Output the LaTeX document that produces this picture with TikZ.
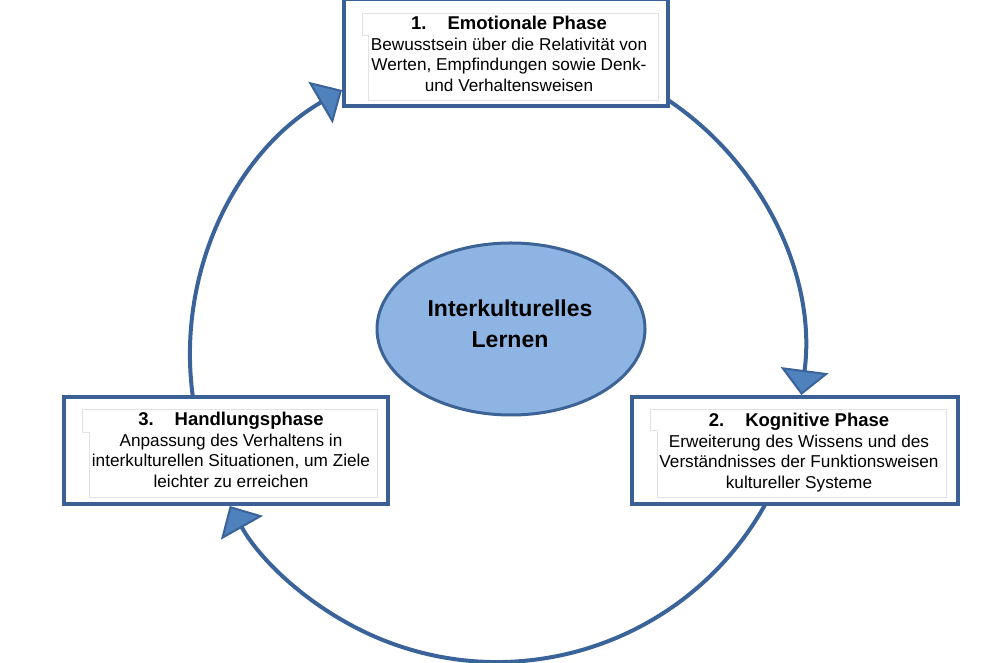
\documentclass[tikz,border=0pt]{standalone}
\usepackage{fontspec}
\setmainfont{Liberation Sans}
\usetikzlibrary{arrows.meta,shapes.geometric}
\definecolor{boxline}{HTML}{3B6096}
\definecolor{ringline}{HTML}{3A6399}
\definecolor{tipfill}{HTML}{4F81BD}
\definecolor{ellfill}{HTML}{8EB4E3}
\definecolor{ellline}{HTML}{3C6396}
\definecolor{faint}{HTML}{E2E2E2}
\tikzset{
  phasebox/.style={draw=boxline, line width=4pt, fill=white, rectangle, inner sep=0pt},
  ring/.style={draw=ringline, line width=4pt},
  ringtip/.style={-{Triangle[length=25pt,width=48pt,fill=tipfill,line width=2pt]}},
  innerframe/.style={draw=faint, line width=0.8pt},
  phasetext/.style={anchor=base, inner sep=0pt, font=\fontsize{17.2}{20.4}\selectfont},
}
\newcommand{\phtitle}[2]{{\fontsize{18.5}{20.4}\selectfont\bfseries #1\hspace{21pt}#2}}
\begin{document}
\begin{tikzpicture}[x=1pt,y=1pt]
\useasboundingbox (0,0) rectangle (992,663);
\fill[white] (0,0) rectangle (992,663);
% ring arcs with arrowheads
\coordinate (ctr) at (497,308);
\draw[ring, ringtip] (ctr) ++(190:307) coordinate (a1s) arc[start angle=190, end angle=120.32, radius=307] coordinate (a1e);
\draw[ring, ringtip] (ctr) ++(58:307) coordinate (a2s) arc[start angle=58, end angle=-7.48, radius=307] coordinate (a2e);
\draw[ring, ringtip] (ctr) ++(-25:307) coordinate (a3s) arc[start angle=-25, end angle=-150.54, radius=307] coordinate (a3e);
% boxes
\node[phasebox, minimum width=324pt, minimum height=107pt] (b1) at (506,610.5) {};
\node[phasebox, minimum width=326pt, minimum height=107pt] (b2) at (795,212.5) {};
\node[phasebox, minimum width=324pt, minimum height=107pt] (b3) at (226,212.5) {};
% faint inner text frames
\draw[innerframe] (362,650) -- (658,650) -- (658,563) -- (368,563) -- (368,628) -- (362,628) -- cycle;
\draw[innerframe] (650,254) -- (946,254) -- (946,166) -- (657,166) -- (657,233) -- (650,233) -- cycle;
\draw[innerframe] (82,254) -- (377,254) -- (377,166) -- (89,166) -- (89,231) -- (82,231) -- cycle;
% texts
\node[phasetext] (t1) at (509,633) {\begin{tabular}[t]{@{}c@{}}\phtitle{1.}{Emotionale Phase}\\ Bewusstsein über die Relativität von\\ Werten, Empfindungen sowie Denk-\\ und Verhaltensweisen\end{tabular}};
\node[phasetext] (t2) at (799,236) {\begin{tabular}[t]{@{}c@{}}\phtitle{2.}{Kognitive Phase}\\ Erweiterung des Wissens und des\\ Verständnisses der Funktionsweisen\\ kultureller Systeme\end{tabular}};
\node[phasetext] (t3) at (231,237) {\begin{tabular}[t]{@{}c@{}}\phtitle{3.}{Handlungsphase}\\ Anpassung des Verhaltens in\\ interkulturellen Situationen, um Ziele\\ leichter zu erreichen\end{tabular}};
% central ellipse
\node[draw=ellline, fill=ellfill, line width=3pt, ellipse, minimum width=268pt, minimum height=172pt, inner sep=0pt] (ell) at (511,334) {};
\node[anchor=base, inner sep=0pt, font=\fontsize{23}{31}\selectfont\bfseries] (ellt) at (510,346) {\begin{tabular}[t]{@{}c@{}}Interkulturelles\\ Lernen\end{tabular}};
\end{tikzpicture}
\end{document}
